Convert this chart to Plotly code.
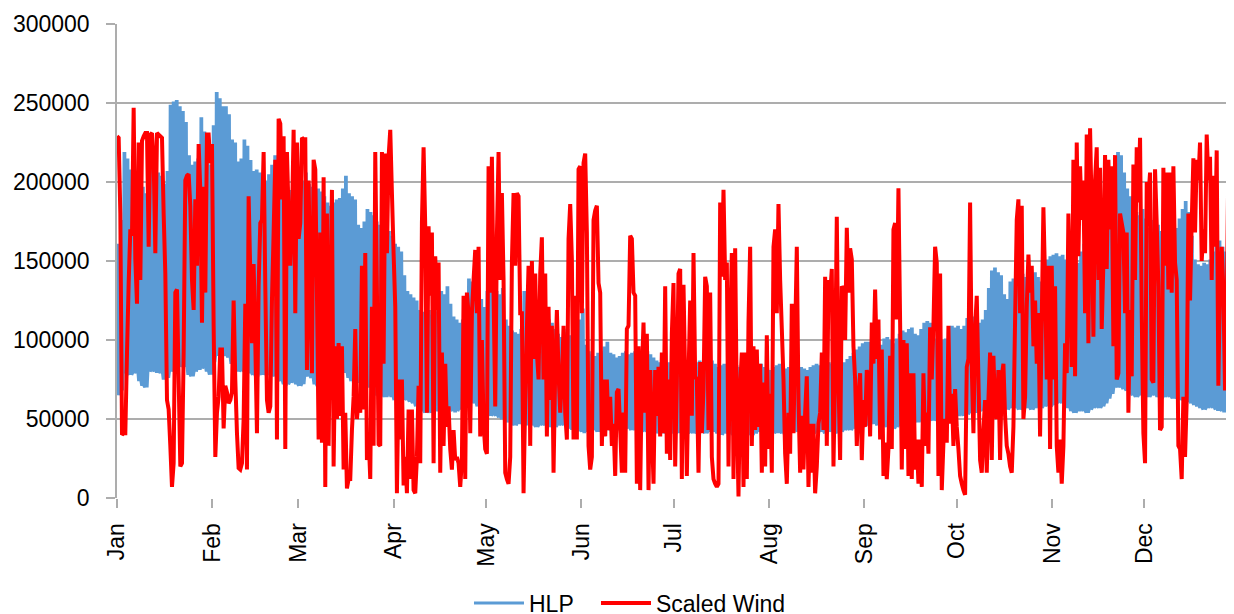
import pandas as pd
import plotly.graph_objects as go

# ---------------- data (values in thousands) ----------------
month_labels = ["Jan", "Feb", "Mar", "Apr", "May", "Jun",
                "Jul", "Aug", "Sep", "Oct", "Nov", "Dec"]

# HLP daily peak (thousands), day 0 .. 363
hlp_peak_jan_feb = [160,175,218,214,207,206,204,203,196,192,
                    205,208,206,205,203,198,206,248,250,251,
                    247,244,237,216,210,212,214,240,231,230,
                    210,235,256,252,247,247,242,226,224,212,
                    214,226,222,213,206,207,205,203,200,204,
                    210,216,212,205,200,196,194,200,203,198,
                    200]
hlp_peak_mar_apr = [205,198,196,192,195,193,190,186,184,186,
                    188,189,195,203,192,190,188,172,170,174,
                    182,180,178,174,172,175,170,168,165,160,
                    158,155,140,130,128,126,124,118,117,116,
                    118,115,117,120,130,128,133,122,114,112,
                    110,112,115,138,136,137,132,125,120,130,
                    134]
hlp_peak_may_jun = [125,130,128,132,112,108,105,104,103,106,
                    130,115,110,108,104,102,106,108,112,110,
                    106,103,101,104,106,102,100,104,112,119,
                    96,92,90,89,91,92,95,98,91,90,
                    88,89,91,92,90,91,92,90,89,91,
                    92,90,88,86,85,86,84,85,86,88,
                    87]
hlp_peak_jul_aug = [84,83,82,84,83,85,86,84,85,88,
                    86,84,82,83,84,83,82,81,83,82,
                    84,83,82,80,81,83,84,82,81,80,
                    82,83,84,82,81,82,83,84,83,82,
                    81,80,82,83,84,83,82,84,85,84,
                    83,82,84,85,87,89,91,93,95,97,
                    98]
hlp_peak_sep_oct = [98,97,99,98,96,100,101,99,97,100,
                    103,105,104,106,107,103,102,106,110,111,
                    110,103,100,101,99,100,104,108,107,108,
                    106,108,113,115,114,112,110,112,118,132,
                    143,145,142,140,128,125,136,138,133,140,
                    141,139,137,140,142,139,136,145,150,152,
                    153]
hlp_peak_nov_dec = [154,152,153,150,148,147,149,148,155,160,
                    165,168,162,158,165,172,178,185,200,212,
                    218,216,205,195,190,185,180,178,182,176,
                    170,175,178,172,168,170,172,168,165,170,
                    176,182,187,180,165,150,147,146,148,147,
                    150,155,160,162,158,155,160,163,160]

# HLP daily trough (thousands)
hlp_trough_jan_feb = [65,68,80,79,78,79,80,74,71,70,
                      80,81,80,80,79,75,76,80,82,82,
                      83,84,83,78,77,80,82,82,83,80,
                      78,86,90,92,91,90,89,85,82,80,
                      81,80,80,79,78,77,79,78,79,78,
                      78,77,75,74,72,72,73,74,72,71,
                      72]
hlp_trough_mar_apr = [78,77,76,72,71,70,71,72,73,76,
                      78,80,80,80,76,74,74,73,74,73,
                      72,70,66,65,64,65,64,66,64,62,
                      62,63,63,62,61,60,58,56,55,54,
                      55,54,55,56,55,56,57,56,55,55,
                      56,57,58,60,61,60,58,56,54,53,
                      52]
hlp_trough_may_jun = [53,52,51,50,49,48,47,46,47,48,
                      47,46,47,46,45,46,47,46,45,46,
                      45,46,47,46,45,44,44,43,43,42,
                      42,43,44,43,42,43,44,43,44,45,
                      44,43,44,45,44,43,44,43,42,43,
                      42,41,42,41,42,41,42,43,42,41,
                      42]
hlp_trough_jul_aug = [42,42,41,42,41,42,43,42,41,42,
                      43,42,41,40,41,42,41,40,41,42,
                      41,42,41,40,41,42,43,42,41,40,
                      41,42,42,41,40,41,42,43,42,41,
                      40,41,42,41,42,43,42,41,42,43,
                      42,41,42,43,44,43,44,45,44,45,
                      46]
hlp_trough_sep_oct = [47,48,47,46,47,46,45,44,44,45,
                      46,47,48,49,50,49,48,50,51,50,
                      50,49,50,51,51,50,51,52,51,52,
                      53,52,53,54,55,54,55,56,55,56,
                      57,56,57,58,57,56,57,58,57,56,
                      57,58,57,56,57,58,57,58,59,58,
                      59]
hlp_trough_nov_dec = [60,61,60,59,57,55,54,55,56,55,
                      54,56,57,58,57,58,60,63,66,70,
                      71,70,69,68,66,65,64,65,66,65,
                      64,65,66,64,63,64,65,64,63,64,
                      62,63,62,61,60,59,58,57,56,57,
                      58,57,56,56,55,55,54,55,56]

# Scaled wind, one reading every 13 hours (thousands)
wind_jan_feb = [229,228,180,40,41,41,92,136,170,166,
                247,151,123,225,138,226,229,231,231,159,
                230,231,214,155,231,230,229,228,180,142,
                62,56,33,7,22,130,132,75,20,22,
                92,201,204,205,185,138,119,189,147,224,
                195,111,197,130,230,230,212,224,109,26,
                54,64,94,94,44,71,67,60,62,67,
                125,75,41,19,18,22,50,123,18,191,
                142,98,148,98,41,134,174,176,219,134,
                62,54,58,125,168,214,37,240,237,189,
                229,31,219,180,147,176,233,117,225,164,
                174,228]
wind_mar_apr = [227,227,81,201,130,79,214,208,130,37,
                168,35,203,7,180,33,117,195,20,96,
                50,98,52,96,18,54,6,12,12,43,
                64,107,50,62,54,147,56,155,24,39,
                12,121,33,219,130,34,33,219,85,218,
                155,216,233,193,155,121,3,75,37,75,
                8,26,3,56,12,56,5,3,26,71,
                22,174,222,172,54,172,128,168,22,153,
                119,149,16,92,33,85,45,58,31,18,
                43,24,26,22,7,24,128,12,130,117,
                41,117,138,157,117,159,39,100,47,31,
                28,210,130]
wind_may_jun = [216,130,58,166,219,138,193,138,16,12,
                9,26,149,193,147,193,191,117,117,3,
                62,107,147,33,150,88,142,92,75,142,
                165,75,142,39,121,62,109,16,81,119,
                79,54,75,109,54,37,164,186,151,37,
                128,37,208,210,117,212,218,168,33,18,
                26,176,182,185,136,130,33,75,39,75,
                43,64,33,47,14,67,69,43,16,54,
                16,107,109,166,164,130,128,9,96,5,
                79,111,54,104,5,81,45,9,81,52,
                83,39,92,41,134,28,75,24,104,136,
                20,73,142]
wind_jul_aug = [145,12,135,75,14,77,125,52,155,77,
                75,16,86,41,69,140,134,43,130,26,
                12,9,7,9,187,140,195,138,149,20,
                107,155,12,158,54,1,71,92,7,92,
                12,111,159,33,96,43,94,45,85,16,
                73,20,103,31,66,16,159,170,117,186,
                138,107,75,28,9,54,28,123,41,102,
                159,62,16,52,18,54,77,7,47,16,
                47,3,20,47,54,92,43,140,33,138,
                128,145,20,81,178,75,24,134,132,100,
                171,130,158,151,96,75,33,62,79,24,
                62,45,81]
wind_sep_oct = [75,39,111,85,132,88,113,37,94,14,
                35,12,31,90,31,170,174,113,196,111,
                18,100,31,98,14,79,12,79,18,37,
                9,37,7,79,33,54,28,108,75,109,
                159,149,14,142,5,35,50,35,109,47,
                66,33,69,45,31,14,9,5,2,83,
                88,187,83,41,107,128,75,24,16,43,
                62,16,62,92,24,90,54,50,81,24,
                77,85,52,33,28,20,16,45,113,176,
                189,117,185,50,64,121,154,130,147,96,
                125,85,117,39,113,184,138,75,147,31,
                147,75,134]
wind_nov_dec = [33,16,37,9,33,98,79,180,136,83,
                214,77,225,153,210,176,201,117,230,98,
                234,180,102,201,222,138,209,107,149,217,
                145,214,170,210,96,217,75,79,180,174,
                168,117,168,54,119,77,211,138,222,187,
                228,117,41,22,200,190,206,75,73,208,
                174,134,43,45,209,147,206,132,206,130,
                210,149,138,33,31,12,64,26,62,180,
                125,174,215,168,214,201,225,150,170,155,
                230,201,216,138,204,159,220,71,138,159,
                132,68,117,212,138,222,100,190]

# ---------------- build series ----------------
base = pd.Timestamp("2013-01-01")
hlp_peak = (hlp_peak_jan_feb + hlp_peak_mar_apr + hlp_peak_may_jun +
            hlp_peak_jul_aug + hlp_peak_sep_oct + hlp_peak_nov_dec)
hlp_trough = (hlp_trough_jan_feb + hlp_trough_mar_apr + hlp_trough_may_jun +
              hlp_trough_jul_aug + hlp_trough_sep_oct + hlp_trough_nov_dec)

# each day: night trough, day peak held through the afternoon, back to trough
hlp_x, hlp_y = [], []
for d, (lo, hi) in enumerate(zip(hlp_trough, hlp_peak)):
    for hour, val in ((1, lo), (7, hi), (13, hi), (19, lo)):
        hlp_x.append(base + pd.Timedelta(hours=24 * d + hour))
        hlp_y.append(val * 1000)

wind = (wind_jan_feb + wind_mar_apr + wind_may_jun +
        wind_jul_aug + wind_sep_oct + wind_nov_dec)
wind_x = [base + pd.Timedelta(hours=13 * i) for i in range(len(wind))]
wind_y = [v * 1000 for v in wind]

month_starts = [pd.Timestamp(2013, m, 1) for m in range(1, 13)]

FONT = "Liberation Sans"
GRID = "#ADADAD"

fig = go.Figure()
fig.add_trace(go.Scatter(x=hlp_x, y=hlp_y, mode="lines", name="HLP",
                         legend="legend",
                         line=dict(color="#5B9BD5", width=3, simplify=False)))
fig.add_trace(go.Scatter(x=wind_x, y=wind_y, mode="lines", name="Scaled Wind",
                         legend="legend2",
                         line=dict(color="#FF0000", width=4, simplify=False)))

legend_common = dict(orientation="h", xanchor="left", y=-0.2215,
                     yanchor="middle", font=dict(size=23, family=FONT),
                     itemwidth=50, bgcolor="rgba(0,0,0,0)")

# the page has an 8px body margin, so the figure is sized to fit inside it
fig.update_layout(
    width=1226, height=606,
    margin=dict(l=109, r=1, t=16, b=116, autoexpand=False),
    paper_bgcolor="white", plot_bgcolor="white",
    font=dict(family=FONT, size=23, color="black"),
    showlegend=True,
    legend=dict(x=0.3154, **legend_common),
    legend2=dict(x=0.4292, **legend_common),
    xaxis=dict(type="date", automargin=False,
               range=[base, base + pd.Timedelta(days=362.8)],
               tickvals=month_starts, ticktext=month_labels,
               tickangle=-90, ticks="outside", ticklen=9, tickwidth=1.5,
               tickcolor=GRID, showgrid=False, showline=False, zeroline=False,
               ticklabelstandoff=6,
               tickfont=dict(size=23, family=FONT)),
    yaxis=dict(range=[0, 300000], dtick=50000, tick0=0, tickformat="d",
               automargin=False,
               showgrid=True, gridcolor=GRID, gridwidth=1.5,
               ticks="outside", ticklen=9, tickwidth=1.5, tickcolor=GRID,
               showline=True, linecolor=GRID, linewidth=1.5, zeroline=False,
               ticklabelstandoff=12,
               tickfont=dict(size=23, family=FONT)),
)

fig.write_html("out.html")
